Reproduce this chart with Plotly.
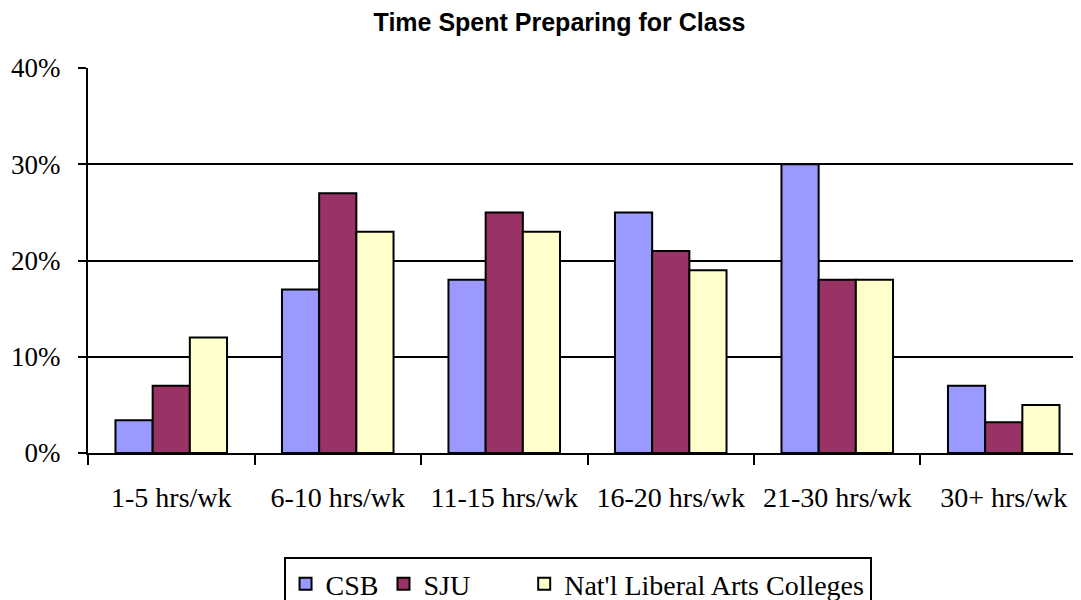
import plotly.graph_objects as go

categories = ["1-5 hrs/wk", "6-10 hrs/wk", "11-15 hrs/wk", "16-20 hrs/wk", "21-30 hrs/wk", "30+ hrs/wk"]
csb = [3.4, 17, 18, 25, 30, 7]
sju = [7, 27, 25, 21, 18, 3.2]
nat_lib = [12, 23, 23, 19, 18, 5]

serif = "Liberation Serif, DejaVu Serif, serif"
pad = "\u00a0" * 7  # extra room after SJU in the legend, like the original

fig = go.Figure()
for name, vals, col in [("CSB", csb, "#9999FF"),
                        ("SJU" + pad, sju, "#993366"),
                        ("Nat'l Liberal Arts Colleges", nat_lib, "#FFFFCC")]:
    fig.add_trace(go.Bar(x=categories, y=vals, name=name,
                         marker=dict(color=col, line=dict(color="black", width=2))))

# page body has an 8px margin, so the figure is shifted by that much
fig.update_layout(
    width=1073, height=592,
    paper_bgcolor="white", plot_bgcolor="white",
    margin=dict(l=80, r=0, t=60, b=147, autoexpand=False),
    barmode="group", bargap=0.33, bargroupgap=0,
    title=dict(text="<b>Time Spent Preparing for Class</b>", x=0.514, xanchor="center",
               y=0.976, yanchor="middle",
               font=dict(family="Liberation Sans Narrow, Arial Narrow, Liberation Sans, sans-serif",
                         size=25, color="black")),
    legend=dict(orientation="h", x=0.493, xanchor="center", y=-0.27, yanchor="top",
                bordercolor="black", borderwidth=2,
                font=dict(family=serif, size=28, color="black"),
                tracegroupgap=0),
    showlegend=True,
)

fig.update_xaxes(
    range=[-0.5, 5.464], showline=True, linecolor="black", linewidth=2,
    ticks="outside", tickson="boundaries", ticklen=10, tickwidth=2, tickcolor="black",
    ticklabelstandoff=18,
    tickfont=dict(family=serif, size=28, color="black"),
    showgrid=False,
)
fig.update_yaxes(
    range=[0, 40], dtick=10, ticksuffix="%",
    showline=True, linecolor="black", linewidth=2,
    ticks="outside", ticklen=8, tickwidth=2, tickcolor="black",
    ticklabelstandoff=12,
    tickfont=dict(family=serif, size=27, color="black"),
    showgrid=True, gridcolor="black", gridwidth=2,
    zeroline=False,
)

fig.write_html("out.html")
